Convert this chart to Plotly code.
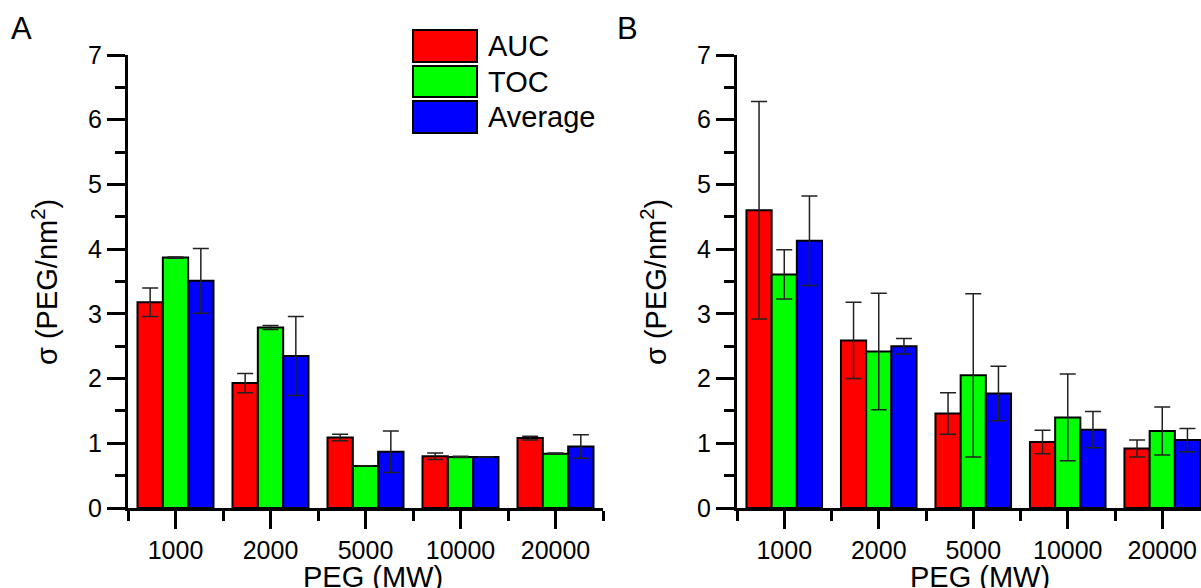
import plotly.graph_objects as go

categories = ["1000", "2000", "5000", "10000", "20000"]
series_names = ["AUC", "TOC", "Average"]
series_colors = ["#FF0000", "#00FF00", "#0000FF"]

# Panel A
a_auc = [3.18, 1.93, 1.09, 0.80, 1.08]
a_auc_err = [0.22, 0.15, 0.05, 0.05, 0.03]
a_toc = [3.87, 2.79, 0.65, 0.79, 0.84]
a_toc_err = [0.01, 0.03, 0.0, 0.01, 0.01]
a_avg = [3.51, 2.35, 0.87, 0.79, 0.95]
a_avg_err = [0.50, 0.61, 0.32, 0.0, 0.18]

# Panel B
b_auc = [4.60, 2.59, 1.46, 1.02, 0.92]
b_auc_err = [1.68, 0.59, 0.32, 0.18, 0.13]
b_toc = [3.61, 2.42, 2.05, 1.40, 1.19]
b_toc_err = [0.38, 0.90, 1.26, 0.67, 0.37]
b_avg = [4.13, 2.50, 1.77, 1.21, 1.05]
b_avg_err = [0.69, 0.12, 0.42, 0.28, 0.18]

panel_labels = ["A", "B"]
x_title = "PEG (MW)"
y_title = "σ (PEG/nm<sup>2</sup>)"

FONT = "Liberation Sans, Arial, sans-serif"
W, H = 1201, 588
xpos = list(range(1, len(categories) + 1))

fig = go.Figure()

panels = [
    ("x", "y", [a_auc, a_toc, a_avg], [a_auc_err, a_toc_err, a_avg_err]),
    ("x2", "y2", [b_auc, b_toc, b_avg], [b_auc_err, b_toc_err, b_avg_err]),
]
for xa, ya, vals, errs in panels:
    for name, color, v, e in zip(series_names, series_colors, vals, errs):
        fig.add_trace(go.Bar(
            x=xpos, y=v, name=name, xaxis=xa, yaxis=ya,
            marker=dict(color=color, line=dict(color="black", width=2)),
            error_y=dict(type="data", array=e, visible=True, color="#222222",
                         thickness=1.5, width=8),
            showlegend=False,
        ))

def xaxis_cfg(domain, rng, anchor):
    return dict(
        domain=domain, range=rng, anchor=anchor, automargin=False,
        showline=True, linewidth=3, linecolor="black",
        tickmode="array", tickvals=xpos, ticktext=categories,
        ticks="outside", ticklen=18, tickwidth=3, tickcolor="black",
        minor=dict(tickmode="array", tickvals=[i + 0.5 for i in range(0, len(categories) + 1)],
                   ticks="outside", ticklen=10, tickwidth=3, tickcolor="black"),
        showgrid=False, zeroline=False,
        tickfont=dict(family=FONT, size=25, color="black"),
        fixedrange=True,
    )

def yaxis_cfg(domain, anchor):
    return dict(
        domain=domain, range=[0, 7], anchor=anchor, automargin=False,
        showline=True, linewidth=3, linecolor="black", dtick=1, tick0=0,
        ticks="outside", ticklen=18, tickwidth=3, tickcolor="black",
        minor=dict(dtick=0.5, tick0=0, ticks="outside", ticklen=10, tickwidth=3,
                   tickcolor="black", showgrid=False),
        showgrid=False, zeroline=False,
        tickfont=dict(family=FONT, size=25, color="black"),
        fixedrange=True,
    )

ydom = [80 / H, (H - 55) / H]
fig.update_layout(
    width=W, height=H,
    margin=dict(l=0, r=0, t=0, b=0, autoexpand=False),
    paper_bgcolor="white", plot_bgcolor="white",
    barmode="group", bargap=0.2, bargroupgap=0,
    font=dict(family=FONT, color="black"),
    xaxis=xaxis_cfg([128 / W, 603 / W], [0.5, 5.5], "y"),
    yaxis=yaxis_cfg(ydom, "x"),
    xaxis2=xaxis_cfg([737 / W, 1.0], [0.5, 5.41], "y2"),
    yaxis2=yaxis_cfg(ydom, "x2"),
)

annotations = []
# Panel labels
for lbl, px in zip(panel_labels, [21, 627]):
    annotations.append(dict(text=lbl, x=px / W, y=1 - 28 / H, xref="paper", yref="paper",
                            xanchor="center", yanchor="middle", showarrow=False,
                            font=dict(family=FONT, size=31, color="black")))
# Axis titles
for cx in [373, 980]:
    annotations.append(dict(text=x_title, x=cx / W, y=1 - 577 / H, xref="paper", yref="paper",
                            xanchor="center", yanchor="middle", showarrow=False,
                            font=dict(family=FONT, size=29, color="black")))
for cx in [45, 654]:
    annotations.append(dict(text=y_title, x=cx / W, y=1 - 282 / H, xref="paper", yref="paper",
                            xanchor="center", yanchor="middle", showarrow=False, textangle=-90,
                            font=dict(family=FONT, size=29, color="black")))

# Legend (panel A)
shapes = []
leg_rows = [(30, 62), (66, 97), (101, 133)]
for (y0, y1), name, color in zip(leg_rows, series_names, series_colors):
    shapes.append(dict(type="rect", xref="paper", yref="paper",
                       x0=413 / W, x1=477 / W, y0=1 - y1 / H, y1=1 - y0 / H,
                       fillcolor=color, line=dict(color="black", width=2)))
    annotations.append(dict(text=name, x=486 / W, y=1 - ((y0 + y1) / 2) / H,
                            xref="paper", yref="paper", xanchor="left", yanchor="middle",
                            showarrow=False, font=dict(family=FONT, size=29, color="black")))

fig.update_layout(annotations=annotations, shapes=shapes)
fig.write_html("out.html", config={"displayModeBar": False},
               post_script="document.body.style.margin='0px';document.body.style.overflow='hidden';")
